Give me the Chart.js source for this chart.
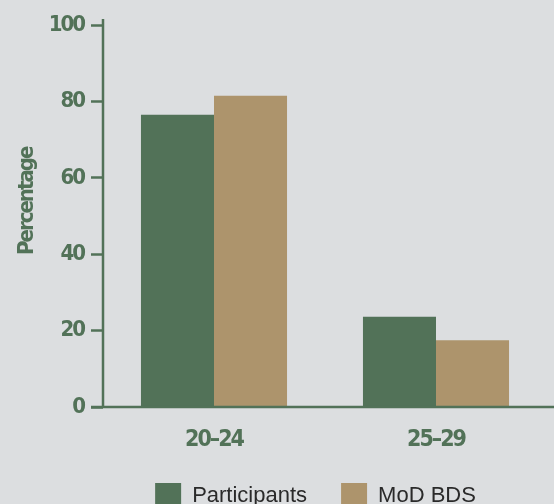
<!DOCTYPE html>
<html>
<head>
<meta charset="utf-8">
<script src="https://cdn.jsdelivr.net/npm/chart.js@4"></script>
<style>
  html, body { margin: 0; padding: 0; background: #dcdee0; overflow: hidden; }
  #wrap { width: 554px; height: 504px; overflow: hidden; }
</style>
</head>
<body>
<div id="wrap">
  <canvas id="ageChart" width="554" height="519"></canvas>
</div>
<script>
const categories = ["20–24", "25–29"];
const participants = [76.5, 23.6];
const modBds = [81.5, 17.5];
const yTicks = [0, 20, 40, 60, 80, 100];

const green = "#527258";
const tan = "#ad946c";
const narrow = "'Liberation Sans Narrow', 'DejaVu Sans Condensed', 'Arial Narrow', sans-serif";

// axis lines that run past the plot area like in the original
const axisLines = {
  id: "axisLines",
  afterLayout(chart) {
    chart.legend.left += 42;
    chart.legend.right += 42;
  },
  afterDatasetsDraw(chart) {
    // squeeze the axis text a bit, no narrow font available
    chart.ctx.letterSpacing = "-2px";
  },
  afterDraw(chart) {
    const { ctx, chartArea, scales } = chart;
    ctx.letterSpacing = "0px";
    const y0 = scales.y.getPixelForValue(0);
    const yTop = scales.y.getPixelForValue(100);
    ctx.save();
    ctx.strokeStyle = green;
    ctx.lineWidth = 2.5;
    ctx.beginPath();
    ctx.moveTo(chartArea.left - 12, y0);
    ctx.lineTo(chart.width, y0);
    ctx.moveTo(chartArea.left, yTop - 6);
    ctx.lineTo(chartArea.left, y0);
    ctx.stroke();
    ctx.restore();
  }
};

const ctx = document.getElementById("ageChart").getContext("2d");
const ageChart = new Chart(ctx, {
  type: "bar",
  data: {
    labels: categories,
    datasets: [
      { label: "Participants", data: participants, backgroundColor: green },
      { label: "MoD BDS", data: modBds, backgroundColor: tan }
    ]
  },
  options: {
    responsive: false,
    animation: false,
    layout: { padding: { top: 25, right: 7, left: 0, bottom: 0 } },
    datasets: { bar: { categoryPercentage: 0.658, barPercentage: 1 } },
    plugins: {
      tooltip: { enabled: false },
      legend: {
        position: "bottom",
        labels: {
          boxWidth: 26,
          boxHeight: 26,
          padding: 34,
          color: "#2a2a2a",
          font: { family: "'Liberation Sans', Arial, sans-serif", size: 22 }
        }
      }
    },
    scales: {
      x: {
        grid: { display: false },
        border: { display: false },
        ticks: {
          z: 1,
          color: green,
          padding: 11,
          font: { family: narrow, size: 23, weight: "bold" }
        },
        afterFit(scale) { scale.height = 42; }
      },
      y: {
        min: 0,
        max: 100,
        afterBuildTicks(scale) {
          scale.ticks = yTicks.map(v => ({ value: v }));
        },
        grid: {
          z: 1,
          drawOnChartArea: false,
          tickLength: 12,
          tickWidth: 2.5,
          tickColor: green
        },
        border: { display: false },
        ticks: {
          z: 1,
          color: green,
          padding: 7,
          font: { family: narrow, size: 22, weight: "bold" }
        },
        title: {
          display: true,
          // leading spaces nudge it up a little, as in the original
          text: "      Percentage",
          color: green,
          padding: { top: 14, bottom: 0 },
          font: { family: narrow, size: 22, weight: "bold" }
        },
        afterFit(scale) { scale.width = 103; }
      }
    }
  },
  plugins: [axisLines]
});
</script>
</body>
</html>
